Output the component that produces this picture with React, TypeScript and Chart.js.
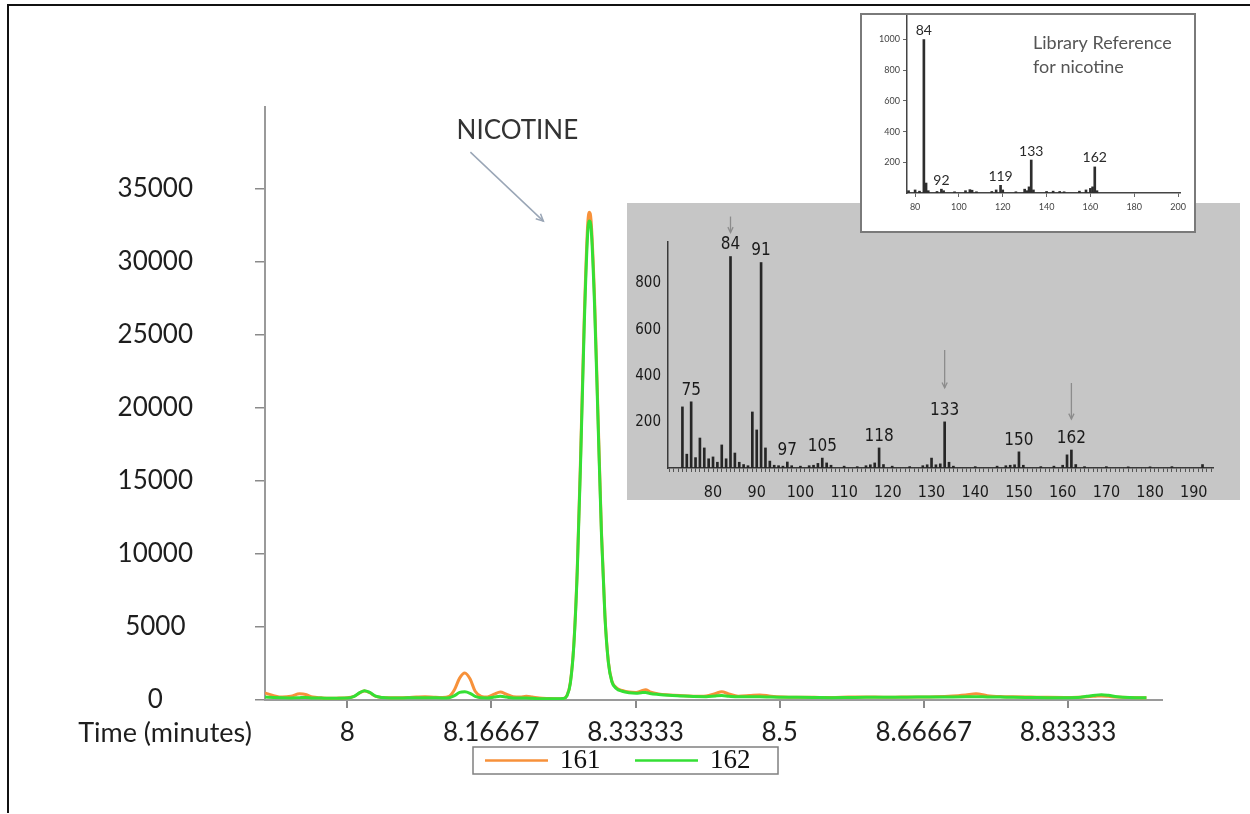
import React, { useEffect, useRef } from 'react';
import { Chart, registerables } from 'chart.js';

Chart.register(...registerables);

// ---------- main chromatogram data ----------
const seriesNames = ['161', '162'];
const timeMin = [
  7.905, 7.915, 7.925, 7.935, 7.945, 7.952, 7.96, 7.97, 7.98, 7.99,
  8.0, 8.008, 8.015, 8.02, 8.026, 8.033, 8.04, 8.05, 8.06, 8.07,
  8.08, 8.09, 8.1, 8.11, 8.118, 8.124, 8.13, 8.136, 8.142, 8.148,
  8.155, 8.162, 8.17, 8.177, 8.184, 8.192, 8.2, 8.207, 8.214, 8.222,
  8.232, 8.242, 8.25, 8.254, 8.258, 8.262, 8.266, 8.27, 8.274, 8.278,
  8.28, 8.282, 8.286, 8.29, 8.294, 8.298, 8.302, 8.306, 8.311, 8.318,
  8.326, 8.334, 8.34, 8.345, 8.35, 8.36, 8.372, 8.385, 8.4, 8.415,
  8.426, 8.433, 8.441, 8.452, 8.465, 8.477, 8.49, 8.505, 8.52, 8.54,
  8.56, 8.58, 8.6, 8.62, 8.64, 8.66, 8.68, 8.7, 8.715, 8.727,
  8.74, 8.755, 8.77, 8.79, 8.81, 8.83, 8.845, 8.855, 8.865, 8.872,
  8.88, 8.89, 8.905, 8.924,
];
const ion161 = [
  480, 300, 200, 250, 420, 380, 200, 150, 120, 130,
  150, 250, 500, 620, 500, 250, 180, 150, 160, 170,
  200, 220, 190, 170, 250, 700, 1500, 1850, 1450, 600,
  250, 200, 400, 550, 400, 220, 200, 250, 200, 130,
  100, 90, 110, 300, 1200, 3800, 9000, 17000, 26000, 32500,
  33400, 32800, 27500, 19500, 11500, 5800, 2600, 1300, 850, 650,
  540, 520, 620, 700, 560, 420, 350, 300, 260, 280,
  450, 560, 420, 260, 300, 350, 260, 210, 190, 180,
  170, 200, 210, 190, 200, 210, 230, 280, 350, 420,
  300, 240, 220, 200, 180, 170, 190, 230, 260, 280,
  250, 200, 170, 150,
];
const ion162 = [
  200, 170, 150, 140, 160, 170, 140, 130, 120, 120,
  130, 250, 520, 640, 520, 260, 170, 140, 140, 150,
  150, 160, 150, 140, 160, 300, 520, 560, 460, 250,
  150, 140, 200, 250, 200, 140, 130, 140, 120, 90,
  80, 80, 100, 280, 1150, 3700, 8800, 16600, 25500, 31900,
  32800, 32300, 27000, 19100, 11300, 5700, 2550, 1250, 800, 600,
  500, 470, 500, 520, 450, 380, 320, 280, 240, 230,
  280, 300, 260, 220, 220, 220, 200, 190, 180, 170,
  160, 170, 180, 180, 190, 200, 200, 210, 220, 230,
  210, 200, 180, 170, 160, 160, 170, 250, 330, 360,
  320, 230, 170, 150,
];
const mainYTicks = [0, 5000, 10000, 15000, 20000, 25000, 30000, 35000];
const mainXTicks = [8, 8.16667, 8.33333, 8.5, 8.66667, 8.83333];
const mainXTickLabels = ['8', '8.16667', '8.33333', '8.5', '8.66667', '8.83333'];
const xAxisTitle = 'Time (minutes)';
const peakLabel = 'NICOTINE';

// ---------- acquired spectrum (gray inset) ----------
const scanMz = [
  73, 74, 75, 76, 77, 78, 79, 80, 81, 82, 83, 84, 85, 86, 87, 88, 89, 90, 91, 92,
  93, 94, 95, 96, 97, 98, 100, 102, 103, 104, 105, 106, 107, 110, 113, 115, 116, 117, 118, 119,
  121, 125, 128, 129, 130, 131, 132, 133, 134, 135, 140, 145, 147, 148, 149, 150, 151, 155, 158, 160,
  161, 162, 163, 165, 170, 175, 180, 185, 192,
];
const scanIntensity = [
  265, 60, 287, 45, 130, 87, 40, 48, 25, 100, 40, 917, 65, 25, 15, 10, 243, 165, 891, 87,
  30, 12, 10, 8, 26, 10, 8, 10, 12, 20, 43, 22, 12, 8, 6, 10, 14, 22, 87, 15,
  8, 6, 10, 14, 43, 14, 18, 200, 25, 8, 6, 8, 10, 12, 14, 70, 12, 6, 8, 12,
  57, 78, 15, 6, 6, 5, 5, 6, 15,
];
const scanLabeledMz = [75, 84, 91, 97, 105, 118, 133, 150, 162];
const scanXTickLabels = ['80', '90', '100', '110', '120', '130', '140', '150', '160', '170', '180', '190'];
const scanYTicks = [200, 400, 600, 800];
const scanArrowMz = [84, 133, 162];
const scanArrowLen = [16, 38, 36];
const scanArrowGap = [7, 17, 14];

// ---------- library reference (white inset) ----------
const libMz = [
  77, 80, 82, 84, 85, 86, 90, 92, 93, 98, 103, 105, 106, 108, 115, 117, 119, 120, 126, 130,
  131, 132, 133, 134, 140, 143, 146, 148, 155, 158, 160, 161, 162, 163,
];
const libIntensity = [
  15, 20, 12, 1000, 65, 15, 10, 25, 15, 8, 15, 22, 18, 8, 10, 20, 50, 20, 8, 25,
  15, 40, 215, 20, 10, 12, 10, 8, 12, 20, 30, 40, 170, 15,
];
const libLabeledMz = [84, 92, 119, 133, 162];
const libXTicks = [80, 100, 120, 140, 160, 180, 200];
const libYTicks = [200, 400, 600, 800, 1000];
const libTitle = ['Library Reference', 'for nicotine'];

const ORANGE = '#F7913A';
const GREEN = '#35DF35';
const NARROW = "'Liberation Sans Narrow', 'DejaVu Sans Condensed', Lato, sans-serif";

function drawArrow(ctx: CanvasRenderingContext2D, x0: number, y0: number, x1: number, y1: number, head: number) {
  ctx.beginPath();
  ctx.moveTo(x0, y0);
  ctx.lineTo(x1, y1);
  ctx.stroke();
  const a = Math.atan2(y1 - y0, x1 - x0);
  ctx.beginPath();
  ctx.moveTo(x1 - head * Math.cos(a - 0.45), y1 - head * Math.sin(a - 0.45));
  ctx.lineTo(x1, y1);
  ctx.lineTo(x1 - head * Math.cos(a + 0.45), y1 - head * Math.sin(a + 0.45));
  ctx.stroke();
}

function makeMain(canvas: HTMLCanvasElement) {
  const decor = {
    id: 'mainDecor',
    afterDraw(chart: any) {
      const ctx: CanvasRenderingContext2D = chart.ctx;
      const xs = chart.scales.x;
      const area = chart.chartArea;
      ctx.save();
      // x axis title on the tick-label row
      ctx.font = '27px Lato';
      ctx.fillStyle = '#1e1e1e';
      ctx.textAlign = 'center';
      ctx.textBaseline = 'middle';
      ctx.fillText(xAxisTitle, area.left - 100, xs.top + 33);

      // NICOTINE annotation
      let pk = 0;
      ion161.forEach((v, i) => { if (v > ion161[pk]) pk = i; });
      const pt = chart.getDatasetMeta(0).data[pk];
      ctx.font = '26px Lato';
      ctx.fillStyle = '#333';
      ctx.fillText(peakLabel, pt.x - 72, pt.y - 82);
      ctx.strokeStyle = '#9aa6b6';
      ctx.lineWidth = 1.5;
      drawArrow(ctx, pt.x - 119, pt.y - 60, pt.x - 46, pt.y + 9, 8);

      // legend
      const cx = chart.width / 2;
      ctx.strokeStyle = '#808080';
      ctx.lineWidth = 1.5;
      ctx.strokeRect(cx - 152, 747, 305, 27);
      const colors = [ORANGE, GREEN];
      ctx.font = "27px 'Liberation Serif', serif";
      ctx.textAlign = 'left';
      ctx.fillStyle = '#111';
      seriesNames.forEach((name, i) => {
        const x0 = cx - 140 + i * 150;
        ctx.strokeStyle = colors[i];
        ctx.lineWidth = 2.5;
        ctx.beginPath();
        ctx.moveTo(x0, 760.5);
        ctx.lineTo(x0 + 63, 760.5);
        ctx.stroke();
        ctx.fillText(name, x0 + 75, 761);
      });
      ctx.restore();
    },
  };

  return new Chart(canvas, {
    type: 'line',
    data: {
      datasets: [
        {
          label: seriesNames[0],
          data: timeMin.map((t, i) => ({ x: t, y: ion161[i] })),
          borderColor: ORANGE,
          borderWidth: 3,
          pointRadius: 0,
          cubicInterpolationMode: 'monotone',
          order: 2,
        },
        {
          label: seriesNames[1],
          data: timeMin.map((t, i) => ({ x: t, y: ion162[i] })),
          borderColor: GREEN,
          borderWidth: 3,
          pointRadius: 0,
          cubicInterpolationMode: 'monotone',
          order: 1,
        },
      ],
    },
    options: {
      animation: false,
      responsive: false,
      layout: { padding: { left: 0, right: 88, top: 107, bottom: 0 } },
      plugins: { legend: { display: false }, tooltip: { enabled: false } },
      scales: {
        x: {
          type: 'linear',
          min: 7.905,
          max: 8.942,
          afterBuildTicks: (s: any) => { s.ticks = mainXTicks.map((v) => ({ value: v })); },
          afterFit: (s: any) => { s.height = 114; },
          grid: { drawOnChartArea: false, drawTicks: true, tickLength: 8, color: '#8a8a8a', lineWidth: 2 },
          border: { color: '#9a9a9a', width: 2 },
          ticks: {
            autoSkip: false,
            maxRotation: 0,
            padding: 9,
            color: '#1e1e1e',
            font: { family: 'Lato', size: 26 },
            callback: (_v: any, i: number) => mainXTickLabels[i],
          },
        },
        y: {
          type: 'linear',
          min: 0,
          max: 40600,
          afterBuildTicks: (s: any) => { s.ticks = mainYTicks.map((v) => ({ value: v })); },
          afterFit: (s: any) => { s.width = 265; },
          grid: { drawOnChartArea: false, drawTicks: true, tickLength: 10, color: '#8a8a8a', lineWidth: 1.5 },
          border: { color: '#9a9a9a', width: 2 },
          ticks: {
            crossAlign: 'center',
            padding: 62,
            color: '#1e1e1e',
            font: { family: 'Lato', size: 26 },
            callback: (v: any) => String(v),
          },
        },
      },
    },
    plugins: [decor],
  } as any);
}

function makeScan(canvas: HTMLCanvasElement) {
  const decor = {
    id: 'scanDecor',
    afterDatasetsDraw(chart: any) {
      const ctx: CanvasRenderingContext2D = chart.ctx;
      const els = chart.getDatasetMeta(0).data;
      ctx.save();
      ctx.font = `17px ${NARROW}`;
      ctx.fillStyle = '#1a1a1a';
      ctx.textAlign = 'center';
      ctx.textBaseline = 'bottom';
      scanLabeledMz.forEach((m) => {
        const i = scanMz.indexOf(m);
        const el = els[i];
        ctx.fillText(String(m), el.x, el.y - 3);
      });
      ctx.strokeStyle = '#8c8c8c';
      ctx.lineWidth = 1.3;
      scanArrowMz.forEach((m, k) => {
        const el = els[scanMz.indexOf(m)];
        const labelTop = el.y - 3 - 14;
        const yEnd = labelTop - scanArrowGap[k];
        drawArrow(ctx, el.x, yEnd - scanArrowLen[k], el.x, yEnd, 6);
      });
      ctx.restore();
    },
  };
  return new Chart(canvas, {
    type: 'bar',
    data: {
      datasets: [
        {
          data: scanMz.map((m, i) => ({ x: m, y: scanIntensity[i] })),
          backgroundColor: '#262626',
          barThickness: 2,
          grouped: false,
        },
      ],
    },
    options: {
      animation: false,
      responsive: false,
      layout: { padding: { left: 0, right: 27, top: 39, bottom: 0 } },
      plugins: { legend: { display: false }, tooltip: { enabled: false } },
      scales: {
        x: {
          type: 'linear',
          min: 69.7,
          max: 194.4,
          offset: false,
          afterBuildTicks: (s: any) => {
            const t: any[] = [];
            for (let m = Math.ceil(s.min); m <= s.max; m++) t.push({ value: m });
            s.ticks = t;
          },
          afterFit: (s: any) => { s.height = 32; },
          grid: { offset: false, drawOnChartArea: false, drawTicks: true, tickLength: 4, color: '#555', lineWidth: 1 },
          border: { color: '#3a3a3a', width: 1.5 },
          ticks: {
            autoSkip: false,
            maxRotation: 0,
            padding: 11,
            color: '#1a1a1a',
            font: { family: NARROW, size: 16 },
            callback: (v: any) => (scanXTickLabels.includes(String(v)) ? String(v) : ''),
          },
        },
        y: {
          type: 'linear',
          min: 0,
          max: 980,
          afterBuildTicks: (s: any) => { s.ticks = scanYTicks.map((v) => ({ value: v })); },
          afterFit: (s: any) => { s.width = 41; },
          grid: { drawOnChartArea: false, drawTicks: false },
          border: { color: '#3a3a3a', width: 1.5 },
          ticks: {
            padding: 7,
            color: '#1a1a1a',
            font: { family: NARROW, size: 15 },
            callback: (v: any) => String(v),
          },
        },
      },
    },
    plugins: [decor],
  } as any);
}

function makeLib(canvas: HTMLCanvasElement) {
  const decor = {
    id: 'libDecor',
    afterDatasetsDraw(chart: any) {
      const ctx: CanvasRenderingContext2D = chart.ctx;
      const els = chart.getDatasetMeta(0).data;
      const area = chart.chartArea;
      ctx.save();
      ctx.font = '14px Lato';
      ctx.fillStyle = '#2a2a2a';
      ctx.textAlign = 'center';
      ctx.textBaseline = 'bottom';
      libLabeledMz.forEach((m) => {
        const el = els[libMz.indexOf(m)];
        ctx.fillText(String(m), el.x, el.y - 2);
      });
      ctx.font = '18px Lato';
      ctx.fillStyle = '#555';
      ctx.textAlign = 'left';
      ctx.textBaseline = 'middle';
      libTitle.forEach((line, i) => ctx.fillText(line, area.left + 126, area.top + 28 + i * 24));
      ctx.restore();
    },
  };
  return new Chart(canvas, {
    type: 'bar',
    data: {
      datasets: [
        {
          data: libMz.map((m, i) => ({ x: m, y: libIntensity[i] })),
          backgroundColor: '#2e2e2e',
          barThickness: 2,
          grouped: false,
        },
      ],
    },
    options: {
      animation: false,
      responsive: false,
      layout: { padding: { left: 0, right: 14, top: 0, bottom: 0 } },
      plugins: { legend: { display: false }, tooltip: { enabled: false } },
      scales: {
        x: {
          type: 'linear',
          min: 76.3,
          max: 200.9,
          offset: false,
          afterBuildTicks: (s: any) => { s.ticks = libXTicks.map((v) => ({ value: v })); },
          afterFit: (s: any) => { s.height = 38; },
          grid: { offset: false, drawOnChartArea: false, drawTicks: true, tickLength: 4, color: '#666' },
          border: { color: '#444', width: 1.5 },
          ticks: {
            autoSkip: false,
            maxRotation: 0,
            padding: 5,
            color: '#444',
            font: { family: 'Lato', size: 9 },
            callback: (v: any) => String(v),
          },
        },
        y: {
          type: 'linear',
          min: 0,
          max: 1160,
          afterBuildTicks: (s: any) => { s.ticks = libYTicks.map((v) => ({ value: v })); },
          afterFit: (s: any) => { s.width = 45; s.paddingTop = 0; },
          grid: { drawOnChartArea: false, drawTicks: true, tickLength: 4, color: '#666' },
          border: { color: '#444', width: 1.5 },
          ticks: {
            padding: 3,
            color: '#444',
            font: { family: 'Lato', size: 9 },
            callback: (v: any) => String(v),
          },
        },
      },
    },
    plugins: [decor],
  } as any);
}

export default function App() {
  const mainRef = useRef<HTMLCanvasElement>(null);
  const scanRef = useRef<HTMLCanvasElement>(null);
  const libRef = useRef<HTMLCanvasElement>(null);

  useEffect(() => {
    const charts = [
      makeMain(mainRef.current as HTMLCanvasElement),
      makeScan(scanRef.current as HTMLCanvasElement),
      makeLib(libRef.current as HTMLCanvasElement),
    ];
    return () => charts.forEach((c) => c.destroy());
  }, []);

  return (
    <div style={{ position: 'absolute', left: 0, top: 0, width: 1250, height: 814, background: '#fff', overflow: 'hidden' }}>
      <canvas ref={mainRef} width={1250} height={814} style={{ position: 'absolute', left: 0, top: 0, width: 1250, height: 814 }} />
      <div
        style={{
          position: 'absolute', left: 7, top: 4, width: 1243, height: 809,
          borderTop: '2px solid #111', borderLeft: '2px solid #111', boxSizing: 'border-box', pointerEvents: 'none',
        }}
      />
      <div style={{ position: 'absolute', left: 627, top: 203, width: 613, height: 297, background: '#c6c6c6' }}>
        <canvas ref={scanRef} width={613} height={297} style={{ display: 'block', width: 613, height: 297 }} />
      </div>
      <div
        style={{
          position: 'absolute', left: 860, top: 13, width: 336, height: 220, background: '#fff',
          border: '2px solid #7a7a7a', boxSizing: 'border-box',
        }}
      >
        <canvas ref={libRef} width={332} height={216} style={{ display: 'block', width: 332, height: 216 }} />
      </div>
    </div>
  );
}
